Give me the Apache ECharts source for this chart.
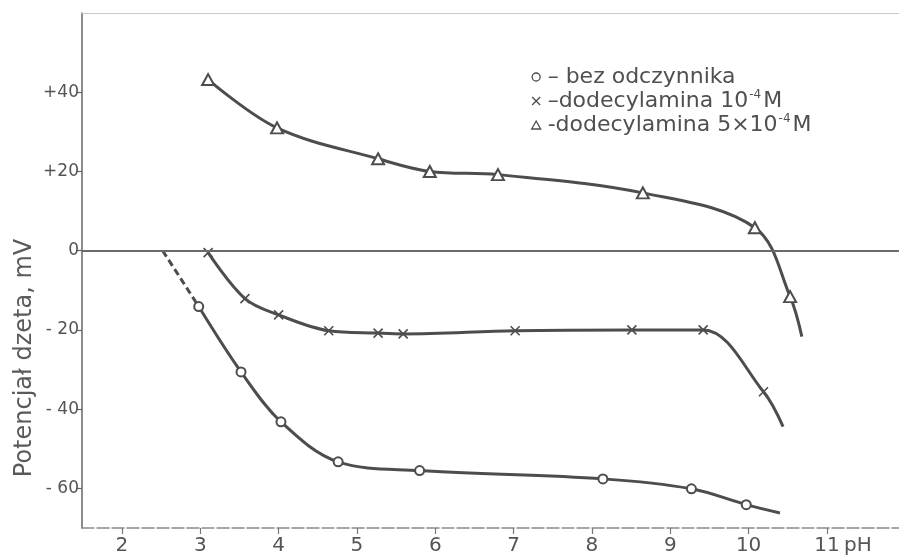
<!DOCTYPE html>
<html>
<head>
<meta charset="utf-8">
<script src="https://cdn.jsdelivr.net/npm/echarts@6/dist/echarts.min.js"></script>
<style>
  html, body { margin: 0; padding: 0; background: #fff; }
  #chart { width: 899px; height: 558px; }
</style>
</head>
<body>
<div id="chart"></div>
<script>
// Axis ticks
const phTicks = [2, 3, 4, 5, 6, 7, 8, 9, 10, 11];
const mvTicks = [-60, -40, -20, 0, 20, 40];

// bez odczynnika (measured points, curve end, dashed extrapolation to 0 mV)
const bezPH = [2.98, 3.52, 4.03, 4.76, 5.80, 8.14, 9.27, 9.97];
const bezMV = [-14.1, -30.6, -43.2, -53.3, -55.5, -57.6, -60.1, -64.1];
const bezEnd = [10.40, -66.2];
const bezExtraPH = [2.52, 2.98];
const bezExtraMV = [0, -14.1];

// dodecylamina 10^-4 M
const dod1PH = [3.10, 3.57, 4.00, 4.64, 5.27, 5.59, 7.02, 8.51, 9.42, 10.19];
const dod1MV = [-0.5, -12.1, -16.2, -20.2, -20.8, -21.0, -20.2, -20.0, -20.0, -35.6];
const dod1End = [10.44, -44.4];

// dodecylamina 5x10^-4 M
const dod5PH = [3.10, 3.98, 5.27, 5.93, 6.80, 8.65, 10.08, 10.53];
const dod5MV = [43.2, 31.0, 23.2, 20.0, 19.2, 14.6, 5.8, -11.6];
const dod5End = [10.68, -21.7];

const seriesNames = ['bez odczynnika', 'dodecylamina 10-4 M', 'dodecylamina 5x10-4 M'];
const legendTexts = [
  '– bez odczynnika',
  '–dodecylamina 10{sup|-4}M',
  '-dodecylamina 5×10{sup|-4}M'
];

const INK = '#4d4d4d';
const FONT = '"DejaVu Sans", sans-serif';

function curve(xs, ys, end) {
  const pts = xs.map((x, i) => [x, ys[i]]);
  if (end) pts.push({ value: end, symbol: 'none' });
  return pts;
}

const crossPath = 'path://M0,0L10,10M10,0L0,10';

const chart = echarts.init(document.getElementById('chart'));

const lineBase = {
  type: 'line',
  smooth: 0.35,
  lineStyle: { color: INK, width: 3 },
  itemStyle: { color: INK, borderColor: INK, borderWidth: 1.5 },
  emphasis: { disabled: true },
  z: 3
};

chart.setOption({
  animation: false,
  backgroundColor: '#fff',
  grid: { left: 82, right: 0, top: 13, bottom: 30, containLabel: false },
  xAxis: [{
    type: 'value',
    min: 1.49,
    max: 11.92,
    splitLine: { show: false },
    axisLine: { show: true, onZero: false, lineStyle: { color: '#8a8a8a', width: 1.5, type: [12, 3] } },
    axisTick: { show: true, customValues: phTicks, length: 6, lineStyle: { color: '#777', width: 1.2 } },
    axisLabel: {
      customValues: phTicks,
      fontFamily: FONT, fontSize: 20, color: '#555', margin: 8
    }
  }, {
    type: 'value',
    position: 'top',
    min: 1.49,
    max: 11.92,
    splitLine: { show: false },
    axisLine: { show: true, onZero: false, lineStyle: { color: '#c8c8c8', width: 1.2 } },
    axisTick: { show: false },
    axisLabel: { show: false }
  }],
  yAxis: {
    type: 'value',
    min: -70,
    max: 60,
    splitLine: { show: false },
    axisLine: { show: true, onZero: false, lineStyle: { color: '#666', width: 1.5 } },
    axisTick: { show: true, customValues: mvTicks, length: 6, lineStyle: { color: '#666', width: 1.2 } },
    axisLabel: {
      customValues: mvTicks,
      fontFamily: FONT, fontSize: 17, color: '#555', margin: 3,
      formatter: v => (v > 0 ? '+' + v : v < 0 ? '- ' + Math.abs(v) : '0')
    }
  },
  legend: {
    data: [
      { name: seriesNames[0], icon: 'circle' },
      { name: seriesNames[1], icon: crossPath },
      { name: seriesNames[2], icon: 'triangle' }
    ],
    orient: 'vertical',
    left: 526,
    top: 60,
    itemWidth: 9,
    itemHeight: 8,
    itemGap: 0,
    selectedMode: false,
    itemStyle: { color: '#fff', borderColor: INK, borderWidth: 1.3 },
    formatter: name => legendTexts[seriesNames.indexOf(name)],
    textStyle: {
      fontFamily: FONT, fontSize: 22, color: '#505050', lineHeight: 24, padding: [0, 0, 0, 2],
      rich: {
        sup: { fontFamily: FONT, fontSize: 12, color: '#505050', verticalAlign: 'top', lineHeight: 24, padding: [0, 2, 12, 1] }
      }
    }
  },
  series: [
    Object.assign({}, lineBase, {
      name: seriesNames[0],
      symbol: 'emptyCircle',
      symbolSize: 9,
      data: curve(bezPH, bezMV, bezEnd),
      markLine: {
        silent: true,
        symbol: 'none',
        label: { show: false },
        lineStyle: { color: '#6a6a6a', width: 1.8, type: 'solid' },
        data: [{ yAxis: 0 }]
      }
    }),
    Object.assign({}, lineBase, {
      name: 'bez odczynnika (ekstrapolacja)',
      showSymbol: false,
      smooth: false,
      lineStyle: { color: INK, width: 3, type: [7, 4] },
      data: bezExtraPH.map((x, i) => [x, bezExtraMV[i]]),
      z: 2
    }),
    Object.assign({}, lineBase, {
      name: seriesNames[1],
      symbol: crossPath,
      symbolSize: 9,
      itemStyle: { color: INK, borderColor: INK, borderWidth: 1.6 },
      data: curve(dod1PH, dod1MV, dod1End)
    }),
    Object.assign({}, lineBase, {
      name: seriesNames[2],
      symbol: 'emptyTriangle',
      symbolSize: [12, 11],
      data: curve(dod5PH, dod5MV, dod5End)
    })
  ]
});

// Axis title and the "pH" unit next to the last tick label
const p11 = chart.convertToPixel({ xAxisIndex: 0, yAxisIndex: 0 }, [11, -70]);
chart.setOption({
  graphic: [{
    type: 'text',
    x: 25, y: 358, rotation: Math.PI / 2,
    style: { text: 'Potencjał dzeta, mV', font: '24px "DejaVu Sans", sans-serif', fill: '#5a5a5a', textAlign: 'center', textVerticalAlign: 'middle' }
  }, {
    type: 'text',
    x: p11[0] + 17,
    y: p11[1] + 18,
    style: { text: 'pH', font: '20px "DejaVu Sans", sans-serif', fill: '#555', textAlign: 'left', textVerticalAlign: 'middle' }
  }]
});
</script>
</body>
</html>
